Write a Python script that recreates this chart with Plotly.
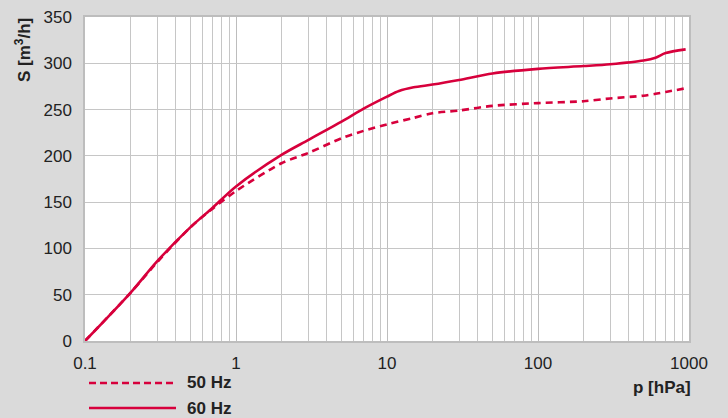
import plotly.graph_objects as go

# Pressure points (hPa) and pumping speed S (m³/h)
p_50 = [0.1, 0.2, 0.3, 0.5, 0.7, 1, 2, 3, 5, 7, 10, 15, 20, 30, 50, 100, 200, 300, 500, 600, 700, 950]
s_50 = [0, 52, 85, 123, 143, 162, 192, 203, 219, 227, 234, 241, 246, 249, 254, 257, 259, 262, 265, 267, 269, 273]

p_60 = [0.1, 0.2, 0.3, 0.5, 0.7, 1, 2, 3, 5, 7, 10, 12, 15, 20, 30, 50, 100, 200, 300, 500, 600, 700, 950]
s_60 = [0, 52, 86, 123, 144, 167, 201, 217, 237, 251, 264, 270, 274, 277, 282, 289, 294, 297, 299, 303, 306, 311, 315]

x_tickvals = [0.1, 1, 10, 100, 1000]
x_ticktext = ["0.1", "1", "10", "100", "1000"]
y_tickvals = [0, 50, 100, 150, 200, 250, 300, 350]

RED = "#d7003c"
BG = "#dadada"
GRID = "#c6c6c6"
FONT = "Liberation Sans, Arial, sans-serif"

fig = go.Figure()
fig.add_trace(go.Scatter(x=p_50, y=s_50, mode="lines", name="50 Hz",
                         line=dict(color=RED, width=2.6, dash="7px,5px", shape="spline", smoothing=0.8),
                         showlegend=False))
fig.add_trace(go.Scatter(x=p_60, y=s_60, mode="lines", name="60 Hz",
                         line=dict(color=RED, width=2.6, shape="spline", smoothing=0.8),
                         showlegend=False))

fig.update_layout(
    width=728, height=418,
    paper_bgcolor=BG, plot_bgcolor="white",
    margin=dict(l=85, r=39, t=17, b=77, autoexpand=False),
    font=dict(family=FONT, size=17, color="#222222"),
    xaxis=dict(type="log", range=[-1, 3], tickvals=x_tickvals, ticktext=x_ticktext,
               showgrid=True, gridcolor="#bdbdbd", gridwidth=1.3,
               minor=dict(dtick="D1", showgrid=True, gridcolor=GRID, gridwidth=1),
               showline=True, linecolor="#bdbdbd", linewidth=1.5, mirror=True,
               ticks="", ticklabelstandoff=6, zeroline=False, automargin=False),
    yaxis=dict(range=[0, 350], tickvals=y_tickvals,
               showgrid=True, gridcolor=GRID, gridwidth=1,
               showline=True, linecolor="#bdbdbd", linewidth=1.5, mirror=True,
               ticks="", ticklabelstandoff=8, zeroline=False, automargin=False),
)

# Axis titles
fig.add_annotation(text="<b>S [m<sup>3</sup>/h]</b>", xref="paper", yref="paper",
                   x=(23 - 85) / 604, y=(341 - 50) / 324, textangle=-90,
                   showarrow=False, xanchor="center", yanchor="middle",
                   font=dict(size=17, family=FONT, color="#222222"))
fig.add_annotation(text="<b>p [hPa]</b>", xref="paper", yref="paper",
                   x=(693 - 85) / 604, y=(341 - 387) / 324,
                   showarrow=False, xanchor="right", yanchor="middle",
                   font=dict(size=17, family=FONT, color="#222222"))

# Legend (drawn manually to match sample line length)
legend_items = [("50 Hz", "7px,4px", 383), ("60 Hz", "solid", 408)]
for label, dash, ypix in legend_items:
    yp = (341 - ypix) / 324
    fig.add_shape(type="line", xref="paper", yref="paper",
                  x0=(89 - 85) / 604, x1=(176 - 85) / 604, y0=yp, y1=yp,
                  line=dict(color=RED, width=2.6, dash=dash))
    fig.add_annotation(text=f"<b>{label}</b>", xref="paper", yref="paper",
                       x=(185 - 85) / 604, y=yp, showarrow=False,
                       xanchor="left", yanchor="middle",
                       font=dict(size=17, family=FONT, color="#222222"))

fig.write_html("out.html", config={"displayModeBar": False},
               post_script="document.body.style.margin='0';document.body.style.overflow='hidden';")
